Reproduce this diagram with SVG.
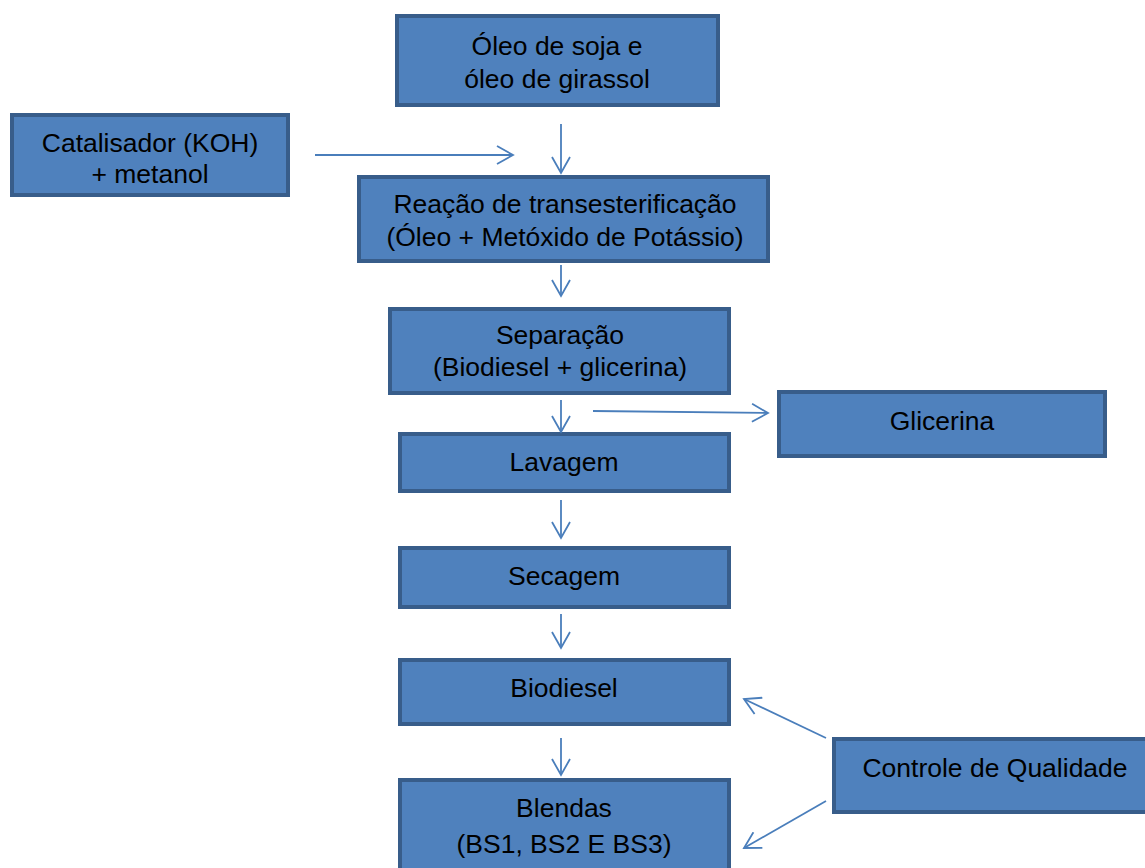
<svg xmlns="http://www.w3.org/2000/svg" width="1145" height="868" viewBox="0 0 1145 868">
<style>
.b{fill:#4f81bd;stroke:#385d8a;stroke-width:4}
.t{font-family:"Liberation Sans",Arial,sans-serif;font-size:26.5px;fill:#000;text-anchor:middle}
.c{stroke:#4a7ebb;stroke-width:1.8;fill:none;marker-end:url(#a)}
</style>
<defs>
<marker id="a" viewBox="0 0 20 20" refX="18" refY="10" markerWidth="20" markerHeight="20" markerUnits="userSpaceOnUse" orient="auto">
<path d="M2,1 L18,10 L2,19" fill="none" stroke="#4a7ebb" stroke-width="1.8"/>
</marker>
</defs>
<rect width="1145" height="868" fill="#fff"/>
<g id="n1"><rect class="b" x="397" y="16" width="321" height="89"/><text class="t" x="557" y="55">Óleo de soja e</text><text class="t" x="557" y="88">óleo de girassol</text></g>
<g id="n2"><rect class="b" x="12" y="115" width="276" height="80"/><text class="t" x="150" y="152">Catalisador (KOH)</text><text class="t" x="150" y="183">+ metanol</text></g>
<g id="n3"><rect class="b" x="359" y="177" width="409" height="84"/><text class="t" x="565" y="213">Reação de transesterificação</text><text class="t" x="565" y="246">(Óleo + Metóxido de Potássio)</text></g>
<g id="n4"><rect class="b" x="390" y="309" width="339" height="84"/><text class="t" x="560" y="344">Separação</text><text class="t" x="560" y="376">(Biodiesel + glicerina)</text></g>
<g id="n5"><rect class="b" x="779" y="392" width="326" height="64"/><text class="t" x="942" y="430">Glicerina</text></g>
<g id="n6"><rect class="b" x="400" y="434" width="329" height="57"/><text class="t" x="564" y="471">Lavagem</text></g>
<g id="n7"><rect class="b" x="400" y="548" width="329" height="59"/><text class="t" x="564" y="585">Secagem</text></g>
<g id="n8"><rect class="b" x="400" y="660" width="329" height="64"/><text class="t" x="564" y="697">Biodiesel</text></g>
<g id="n9"><rect class="b" x="834" y="739" width="313" height="73"/><text class="t" x="995" y="777">Controle de Qualidade</text></g>
<g id="n10"><rect class="b" x="400" y="780" width="329" height="92"/><text class="t" x="564" y="817">Blendas</text><text class="t" x="564" y="853">(BS1, BS2 E BS3)</text></g>
<g id="connectors">
<line class="c" x1="315" y1="155" x2="513" y2="155"/>
<line class="c" x1="561" y1="124" x2="561" y2="173"/>
<line class="c" x1="561" y1="265" x2="561" y2="296"/>
<line class="c" x1="561" y1="400" x2="561" y2="432"/>
<line class="c" x1="593" y1="411" x2="768" y2="413"/>
<line class="c" x1="561" y1="500" x2="561" y2="538"/>
<line class="c" x1="561" y1="614" x2="561" y2="648"/>
<line class="c" x1="561" y1="738" x2="561" y2="775"/>
<line class="c" x1="826" y1="738" x2="744" y2="699"/>
<line class="c" x1="826" y1="801" x2="744" y2="848"/>
</g>
</svg>
